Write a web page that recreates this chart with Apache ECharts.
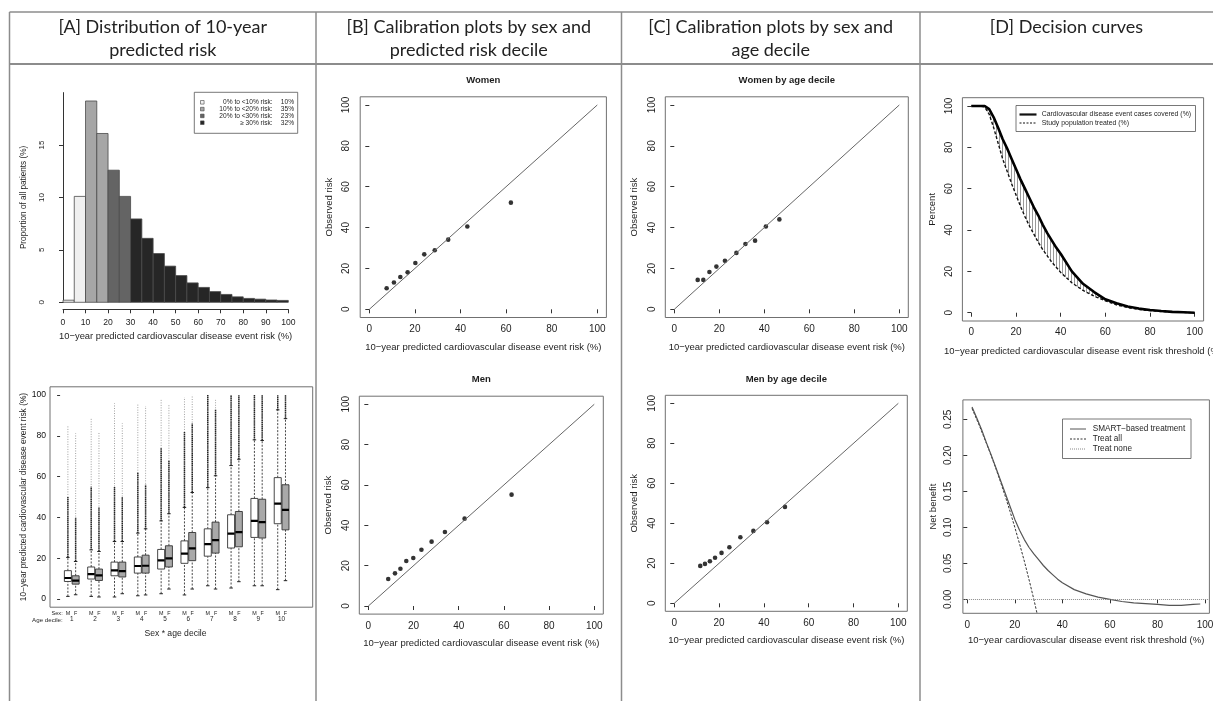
<!DOCTYPE html>
<html><head><meta charset="utf-8">
<script src="https://cdn.jsdelivr.net/npm/echarts@6/dist/echarts.min.js"></script>
<style>html,body{margin:0;padding:0;background:#fff}#c{width:1213px;height:701px}</style>
</head><body><div id="c"></div>
<script>
// ================= DATA =================
const headerLines = [
  ["[A] Distribution of 10-year", "predicted risk"],
  ["[B] Calibration plots by sex and", "predicted risk decile"],
  ["[C] Calibration plots by sex and", "age decile"],
  ["[D] Decision curves"]
];

// [A] histogram of predicted risk (bins of 5%)
const histBinStart = [0,5,10,15,20,25,30,35,40,45,50,55,60,65,70,75,80,85,90,95];
const histBinWidth = 5;
const histValues = [0.2,10.1,19.2,16.1,12.6,10.1,7.95,6.1,4.65,3.45,2.55,1.85,1.42,1.02,0.75,0.52,0.37,0.3,0.22,0.18];
const histXTicks = [0,10,20,30,40,50,60,70,80,90,100];
const histYTicks = [0,5,10,15];
const riskGroupLabels = ["0% to <10% risk:", "10% to <20% risk:", "20% to <30% risk:", "\u2265 30% risk:"];
const riskGroupShares = ["10%", "35%", "23%", "32%"];
const riskGroupUpper = [10, 20, 30, 100];

// [A] boxplots by sex * age decile: [lowWhisker, Q1, median, Q3, highWhisker, denseOutlierTop, maxOutlier]
const ageDeciles = ["1","2","3","4","5","6","7","8","9","10"];
const sexLabels = ["M","F"];
const boxMen = [
  [1.3, 8.6, 10.3, 13.9, 20.4, 50, 85.3],
  [1.3, 9.8, 12.2, 15.7, 24.1, 55, 88.6],
  [1.0, 11.4, 14.0, 18.1, 28.2, 55, 95.9],
  [1.6, 12.7, 16.2, 20.6, 32.3, 62, 95.9],
  [2.6, 14.7, 18.9, 24.3, 38.3, 74, 97.9],
  [2.0, 17.5, 22.3, 28.5, 44.9, 82, 98.9],
  [6.5, 21.0, 26.9, 34.4, 54.6, 100, 100],
  [5.4, 25.0, 32.1, 41.3, 65.4, 100, 100],
  [6.5, 30.2, 38.3, 49.3, 78.0, 100, 100],
  [4.6, 36.9, 46.8, 59.5, 92.7, 100, 100]
];
const boxWomen = [
  [2.1, 7.3, 9.0, 11.4, 18.4, 40, 81.2],
  [1.0, 9.1, 11.6, 14.7, 23.3, 45, 81.6],
  [2.6, 10.8, 13.7, 18.1, 28.2, 50, 86.1],
  [2.0, 12.7, 16.3, 21.5, 34.4, 56, 94.6],
  [4.9, 15.7, 19.9, 26.1, 41.8, 68, 95.1],
  [4.9, 18.8, 24.8, 32.6, 52.2, 86, 100],
  [4.9, 22.5, 28.9, 37.7, 60.4, 93, 97.6],
  [8.5, 25.6, 32.8, 42.9, 68.5, 100, 100],
  [6.5, 29.9, 37.7, 48.9, 77.7, 100, 100],
  [9.0, 33.9, 43.7, 56.0, 88.4, 100, 100]
];
const boxYTicks = [0,20,40,60,80,100];

// [B] calibration by predicted-risk decile
const womenRiskPred = [7.6,10.8,13.6,16.8,20.2,24.1,28.7,34.6,43.0,62.1];
const womenRiskObs  = [10.3,13.1,15.8,18.1,22.7,26.9,28.9,34.1,40.5,52.2];
const menRiskPred   = [8.8,11.8,14.2,16.8,19.9,23.5,28.0,33.9,42.6,63.4];
const menRiskObs    = [13.4,16.2,18.5,22.3,23.8,27.9,31.9,36.7,43.3,55.2];
// [C] calibration by age decile
const womenAgePred  = [10.4,12.9,15.6,18.7,22.5,27.6,31.6,35.9,40.7,46.7];
const womenAgeObs   = [14.4,14.4,18.3,20.9,23.8,27.6,32.0,33.6,40.5,44.0];
const menAgePred    = [11.6,13.7,15.9,18.2,21.1,24.6,29.5,35.3,41.4,49.4];
const menAgeObs     = [18.7,19.7,21.0,22.8,25.2,28.0,33.0,36.2,40.5,48.2];
const identityEnds  = [0, 100];
const calTicks = [0,20,40,60,80,100];

// [D] top: cases covered vs population treated
const thresholdPct = [0,2,4,6,8,10,12,14,16,18,20,22,24,26,28,30,32,34,36,38,40,45,50,55,60,65,70,75,80,85,90,95,100];
const casesCovered = [100,100,100,100,98.5,94.5,89.5,84,79.5,74.5,69.5,64.5,60,55.5,51,47,42.5,38.5,35,31.5,28.5,20,14,10,6.5,4.6,3.0,2.0,1.3,0.8,0.4,0.2,0];
const populationTreated = [100,100,100,99.5,96,89.5,82,74.5,68.5,62.5,57,51.5,46.5,42,38,34,30.5,27.5,24.5,22,19.5,14.5,10.8,8,5.8,3.8,2.5,1.6,1.0,0.6,0.3,0.15,0];
const coverageLegend = ["Cardiovascular disease event cases covered (%)", "Study population treated (%)"];

// [D] bottom: net benefit
const nbThreshold = [2,4,6,8,10,12,14,16,18,20,22,24,26,28,30,32,34,36,38,40,45,50,55,60,65,70,75,80,85,90,95,98];
const nbSmart = [0.267,0.252,0.236,0.218,0.201,0.183,0.165,0.147,0.129,0.111,0.096,0.083,0.072,0.063,0.055,0.047,0.040,0.034,0.028,0.023,0.0135,0.0075,0.003,0.0,-0.003,-0.005,-0.006,-0.007,-0.0085,-0.0085,-0.007,-0.0065];
const nbAllThreshold = [2,5,8,10,12,14,16,18,20,22,24,26,28,30];
const nbTreatAll = [0.265,0.242,0.217,0.2,0.182,0.163,0.143,0.122,0.1,0.077,0.053,0.027,0.0,-0.029];
const nbTreatNone = 0;
const nbLegend = ["SMART\u2212based treatment", "Treat all", "Treat none"];
const nbYTicks = [0,0.05,0.10,0.15,0.20,0.25];

// ================= STYLE =================
const FONT = 'Liberation Sans';
const FONTCSS = '"Liberation Sans", Arial, sans-serif';
const HFONT = 'Lato, "Open Sans", sans-serif';
const FRAME = '#707070';
const TXT = '#1e1e1e';
const TABLE = '#8c8c8c';
const groupColors = ['#f0f0f0', '#a6a6a6', '#646464', '#262626'];

function frameGrid(l, t, w, h) {
  return {left: l, top: t, width: w, height: h, show: true, borderColor: FRAME, borderWidth: 1,
          backgroundColor: 'rgba(0,0,0,0)', containLabel: false, outerBoundsMode: 'none'};
}
function xAx(gi, min, max, ticks, name, gap, margin, fs) {
  return {type: 'value', gridIndex: gi, min: min, max: max, position: 'bottom',
    axisLine: {show: false}, splitLine: {show: false},
    axisTick: {show: true, customValues: ticks, length: 4, lineStyle: {color: '#333'}},
    axisLabel: {customValues: ticks, margin: margin, fontSize: fs || 10, color: TXT, fontFamily: FONT},
    name: name, nameLocation: 'middle', nameGap: gap,
    nameTextStyle: {fontSize: 9.5, color: TXT, fontFamily: FONT}};
}
function yAx(gi, min, max, ticks, name, gap, margin, fmt) {
  return {type: 'value', gridIndex: gi, min: min, max: max,
    axisLine: {show: false}, splitLine: {show: false},
    axisTick: {show: true, customValues: ticks, length: 4, lineStyle: {color: '#333'}},
    axisLabel: {customValues: ticks, margin: margin, rotate: 90, fontSize: 10, color: TXT, fontFamily: FONT,
                formatter: fmt || (v => String(v))},
    name: name, nameLocation: 'middle', nameGap: gap,
    nameTextStyle: {fontSize: 9.5, color: TXT, fontFamily: FONT}};
}

// hatch pattern for the covered/treated gap
const hatch = document.createElement('canvas');
hatch.width = 3; hatch.height = 4;
(function(){ const g = hatch.getContext('2d'); g.fillStyle = '#9a9a9a'; g.fillRect(0, 0, 1, 4); })();

// ================= BOXPLOT helpers =================
const menPos = ageDeciles.map((d, i) => 3 * i + 1);
const womenPos = ageDeciles.map((d, i) => 3 * i + 2);
const decilePos = ageDeciles.map((d, i) => 3 * i + 1.5);
function boxRender(fill) {
  return function (params, api) {
    const x = api.value(0);
    const P = v => api.coord([x, v]);
    const w = api.size([0.9, 0])[0];
    const cx = P(0)[0];
    const yLo = P(api.value(1))[1], yQ1 = P(api.value(2))[1], yMed = P(api.value(3))[1],
          yQ3 = P(api.value(4))[1], yHi = P(api.value(5))[1], yDen = P(api.value(6))[1], yMax = P(api.value(7))[1];
    const L = (x1, y1, x2, y2, s) => ({type: 'line', shape: {x1, y1, x2, y2}, style: s});
    return {type: 'group', children: [
      L(cx, yHi, cx, yMax, {stroke: '#a0a0a0', lineWidth: 1, lineDash: [1, 1.5]}),
      L(cx, yHi, cx, yDen, {stroke: '#262626', lineWidth: 1.5, lineDash: [1.4, 0.5]}),
      L(cx, yLo, cx, yQ1, {stroke: '#333', lineWidth: 0.9, lineDash: [2, 1.5]}),
      L(cx, yQ3, cx, yHi, {stroke: '#333', lineWidth: 0.9, lineDash: [2, 1.5]}),
      L(cx - w / 4, yLo, cx + w / 4, yLo, {stroke: '#222', lineWidth: 1}),
      L(cx - w / 4, yHi, cx + w / 4, yHi, {stroke: '#222', lineWidth: 1}),
      {type: 'rect', shape: {x: cx - w / 2, y: yQ3, width: w, height: yQ1 - yQ3},
       style: {fill: fill, stroke: '#333', lineWidth: 0.9}},
      L(cx - w / 2, yMed, cx + w / 2, yMed, {stroke: '#000', lineWidth: 2.2})
    ]};
  };
}

// ================= GRAPHIC (table, headers, legends) =================
const colX = [9.5, 316, 621.5, 920, 1213];
const graphics = [];
function gl(x1, y1, x2, y2, w, c) {
  graphics.push({type: 'line', shape: {x1, y1, x2, y2}, style: {stroke: c || TABLE, lineWidth: w || 1.5}, silent: true});
}
function gt(text, x, y, font, align, color, weight) {
  graphics.push({type: 'text', x: x, y: y, silent: true,
    style: {text: text, font: (weight ? weight + ' ' : '') + font, fill: color || TXT,
            textAlign: align || 'center', textVerticalAlign: 'middle', verticalAlign: 'middle'}});
}
gl(colX[0], 12, 1213, 12);
gl(colX[0], 64, 1213, 64, 2);
colX.slice(0, 4).forEach(x => gl(x, 12, x, 701));
headerLines.forEach((lines, i) => {
  const cx = (colX[i] + colX[i + 1]) / 2;
  lines.forEach((t, j) => gt(t, cx, 27 + j * 23, '18px ' + HFONT, 'center', '#222'));
});
// panel subtitles
gt('Women', 483.3, 80.7, '9.5px ' + FONTCSS, 'center', TXT, 'bold');
gt('Men', 481.3, 379.3, '9.5px ' + FONTCSS, 'center', TXT, 'bold');
gt('Women by age decile', 786.8, 80.7, '9.5px ' + FONTCSS, 'center', TXT, 'bold');
gt('Men by age decile', 786.3, 379.3, '9.5px ' + FONTCSS, 'center', TXT, 'bold');
// histogram legend
graphics.push({type: 'rect', shape: {x: 194.3, y: 92.3, width: 103.4, height: 41}, style: {fill: '#fff', stroke: '#555', lineWidth: 0.8}, silent: true});
riskGroupLabels.forEach((t, i) => {
  const y = 102.3 + i * 6.8;
  graphics.push({type: 'rect', shape: {x: 200.5, y: y - 1.8, width: 3.6, height: 3.6}, style: {fill: groupColors[i], stroke: '#444', lineWidth: 0.6}, silent: true});
  gt(t, 272.7, y, '6.6px ' + FONTCSS, 'right');
  gt(riskGroupShares[i], 294, y, '6.6px ' + FONTCSS, 'right');
});
// boxplot row labels
gt('Sex:', 62.7, 613.8, '5.6px ' + FONTCSS, 'right');
gt('Age decile:', 62.7, 620, '6.2px ' + FONTCSS, 'right');
gt('Sex * age decile', 175.5, 634, '8.6px ' + FONTCSS, 'center');
// D top legend
graphics.push({type: 'rect', shape: {x: 1016, y: 105.5, width: 179.5, height: 26}, style: {fill: '#fff', stroke: '#555', lineWidth: 0.8}, silent: true});
gl(1019.5, 114.5, 1036.5, 114.5, 2.2, '#111');
gl(1019.5, 123, 1036.5, 123, 1, '#111');
graphics[graphics.length - 1].style.lineDash = [2, 1.5];
gt(coverageLegend[0], 1041.7, 114.5, '6.9px ' + FONTCSS, 'left');
gt(coverageLegend[1], 1041.7, 123, '6.9px ' + FONTCSS, 'left');
// D bottom legend
graphics.push({type: 'rect', shape: {x: 1062.5, y: 419, width: 128.5, height: 39.5}, style: {fill: '#fff', stroke: '#555', lineWidth: 0.8}, silent: true});
const nbLegendStyles = [{stroke: '#555', lineWidth: 1}, {stroke: '#333', lineWidth: 1, lineDash: [2, 1.5]}, {stroke: '#888', lineWidth: 1, lineDash: [1, 1]}];
nbLegend.forEach((t, i) => {
  const y = 429 + i * 10;
  graphics.push({type: 'line', shape: {x1: 1070, y1: y, x2: 1086, y2: y}, style: nbLegendStyles[i], silent: true});
  gt(t, 1092.7, y, '8.2px ' + FONTCSS, 'left');
});

// ================= OPTION =================
const pairs = (xs, ys) => xs.map((x, i) => [x, ys[i]]);
const identity = identityEnds.map(v => [v, v]);
function calSeries(gi, xs, ys) {
  return [
    {type: 'line', xAxisIndex: gi, yAxisIndex: gi - 1, data: identity, symbol: 'none', silent: true,
     lineStyle: {color: '#666', width: 1}},
    {type: 'scatter', xAxisIndex: gi, yAxisIndex: gi - 1, data: pairs(xs, ys), symbol: 'circle', symbolSize: 4.6,
     itemStyle: {color: '#000'}, silent: true}
  ];
}

const option = {
  backgroundColor: '#fff',
  animation: false,
  textStyle: {fontFamily: FONT},
  graphic: graphics,
  grid: [
    {left: 63, top: 92.6, width: 225.3, height: 209.7, containLabel: false, outerBoundsMode: 'none'},
    frameGrid(50, 386.8, 262.7, 220.4),
    frameGrid(360.2, 96.8, 246.2, 220.7),
    frameGrid(359.3, 396.2, 244, 217.9),
    frameGrid(665.3, 96.8, 243, 220.7),
    frameGrid(665.3, 395.3, 242, 216),
    frameGrid(962.4, 97.7, 241.2, 223.3),
    frameGrid(962.9, 399.9, 246.5, 213.4)
  ],
  xAxis: [
    // 0 histogram
    {type: 'value', gridIndex: 0, min: 0, max: 100, offset: 7, position: 'bottom',
     axisLine: {show: true, onZero: false, lineStyle: {color: '#333', width: 1}}, splitLine: {show: false},
     axisTick: {show: true, customValues: histXTicks, length: 4, lineStyle: {color: '#333'}},
     axisLabel: {customValues: histXTicks, margin: 8.5, fontSize: 8.6, color: TXT, fontFamily: FONT},
     name: '10\u2212year predicted cardiovascular disease event risk (%)', nameLocation: 'middle', nameGap: 23,
     nameTextStyle: {fontSize: 9.4, color: TXT, fontFamily: FONT}},
    // 1 boxplot sex labels
    {type: 'value', gridIndex: 1, min: -1.3, max: 32.5, position: 'bottom',
     axisLine: {show: false}, axisTick: {show: false}, splitLine: {show: false},
     axisLabel: {customValues: menPos.concat(womenPos), margin: 4, fontSize: 5.4, color: TXT, fontFamily: FONT,
                 formatter: v => sexLabels[(Math.round(v) % 3) - 1]}},
    // 2 boxplot decile labels
    {type: 'value', gridIndex: 1, min: -1.3, max: 32.5, position: 'bottom', offset: 6,
     axisLine: {show: false}, axisTick: {show: false}, splitLine: {show: false},
     axisLabel: {customValues: decilePos, margin: 3.5, fontSize: 6.4, color: TXT, fontFamily: FONT,
                 formatter: v => ageDeciles[Math.round((v - 1.5) / 3)]}},
    xAx(2, -4, 104, calTicks, '10\u2212year predicted cardiovascular disease event risk (%)', 24.5, 7),
    xAx(3, -4, 104, calTicks, '10\u2212year predicted cardiovascular disease event risk (%)', 24, 7),
    xAx(4, -4, 104, calTicks, '10\u2212year predicted cardiovascular disease event risk (%)', 24.5, 7),
    xAx(5, -4, 104, calTicks, '10\u2212year predicted cardiovascular disease event risk (%)', 24, 7),
    xAx(6, -4, 104, calTicks, '10\u2212year predicted cardiovascular disease event risk threshold (%)', 25, 6),
    xAx(7, -1.84, 101.84, calTicks, '10\u2212year cardiovascular disease event risk threshold (%)', 22, 7)
  ],
  yAxis: [
    // 0 histogram
    {type: 'value', gridIndex: 0, min: 0, max: 20,
     axisLine: {show: true, onZero: false, lineStyle: {color: '#333', width: 1}}, splitLine: {show: false},
     axisTick: {show: true, customValues: histYTicks, length: 4, lineStyle: {color: '#333'}},
     axisLabel: {customValues: histYTicks, margin: 17, rotate: 90, fontSize: 8, color: TXT, fontFamily: FONT},
     name: 'Proportion of all patients (%)', nameLocation: 'middle', nameGap: 35,
     nameTextStyle: {fontSize: 8.2, color: TXT, fontFamily: FONT}},
    // 1 boxplot
    {type: 'value', gridIndex: 1, min: -4, max: 104,
     axisLine: {show: false}, splitLine: {show: false},
     axisTick: {show: true, customValues: boxYTicks, length: 3, lineStyle: {color: '#333'}},
     axisLabel: {customValues: boxYTicks, margin: 4, fontSize: 8.6, color: '#111', fontFamily: FONT},
     name: '10\u2212year predicted cardiovascular disease event risk (%)', nameLocation: 'middle', nameGap: 21,
     nameTextStyle: {fontSize: 8.4, color: TXT, fontFamily: FONT}},
    yAx(2, -4, 104, calTicks, 'Observed risk', 25.5, 8.5),
    yAx(3, -4, 104, calTicks, 'Observed risk', 25.5, 8.5),
    yAx(4, -4, 104, calTicks, 'Observed risk', 25.5, 8.5),
    yAx(5, -4, 104, calTicks, 'Observed risk', 25.5, 8.5),
    yAx(6, -4, 104, calTicks, 'Percent', 24.7, 7.7),
    yAx(7, -0.0194, 0.277, nbYTicks, 'Net benefit', 25, 10, v => v.toFixed(2))
  ],
  series: [
    // histogram bars
    {type: 'custom', xAxisIndex: 0, yAxisIndex: 0, silent: true,
     data: histBinStart.map((s, i) => [s, s + histBinWidth, histValues[i]]),
     renderItem: function (params, api) {
       const s = api.value(0);
       const p0 = api.coord([s, 0]);
       const p1 = api.coord([api.value(1), api.value(2)]);
       let g = 0; while (s >= riskGroupUpper[g]) g++;
       return {type: 'rect', shape: {x: p0[0], y: p1[1], width: p1[0] - p0[0], height: p0[1] - p1[1]},
               style: {fill: groupColors[g], stroke: '#4a4a4a', lineWidth: 0.8}};
     }},
    // boxplots
    {type: 'custom', xAxisIndex: 1, yAxisIndex: 1, silent: true, clip: true,
     data: boxMen.map((b, i) => [menPos[i]].concat(b)), renderItem: boxRender('#ffffff')},
    {type: 'custom', xAxisIndex: 1, yAxisIndex: 1, silent: true, clip: true,
     data: boxWomen.map((b, i) => [womenPos[i]].concat(b)), renderItem: boxRender('#a9a9a9')},
    // calibration
    ...calSeries(3, womenRiskPred, womenRiskObs),
    ...calSeries(4, menRiskPred, menRiskObs),
    ...calSeries(5, womenAgePred, womenAgeObs),
    ...calSeries(6, menAgePred, menAgeObs),
    // D top hatched gap
    {type: 'custom', xAxisIndex: 7, yAxisIndex: 6, silent: true, data: [[0, 0]],
     renderItem: function (params, api) {
       const pts = [];
       thresholdPct.forEach((t, i) => pts.push(api.coord([t, casesCovered[i]])));
       for (let i = thresholdPct.length - 1; i >= 0; i--) pts.push(api.coord([thresholdPct[i], populationTreated[i]]));
       return {type: 'polygon', shape: {points: pts}, style: {fill: {image: hatch, repeat: 'repeat'}, stroke: null}};
     }},
    {type: 'line', xAxisIndex: 7, yAxisIndex: 6, data: pairs(thresholdPct, populationTreated), symbol: 'none', silent: true,
     lineStyle: {color: '#111', width: 1.4, type: [3, 2]}},
    {type: 'line', xAxisIndex: 7, yAxisIndex: 6, data: pairs(thresholdPct, casesCovered), symbol: 'none', silent: true,
     lineStyle: {color: '#000', width: 2.6}},
    // D bottom net benefit
    {type: 'line', xAxisIndex: 8, yAxisIndex: 7, data: pairs(nbAllThreshold, nbTreatAll), symbol: 'none', silent: true,
     clip: true, lineStyle: {color: '#333', width: 1, type: [2.5, 1.5]}},
    {type: 'line', xAxisIndex: 8, yAxisIndex: 7, data: pairs(nbThreshold, nbSmart), symbol: 'none', silent: true,
     lineStyle: {color: '#555', width: 1.2},
     markLine: {silent: true, symbol: 'none', label: {show: false},
                lineStyle: {color: '#8a8a8a', width: 1, type: [1, 1]}, data: [{yAxis: nbTreatNone}]}}
  ]
};
const chart = echarts.init(document.getElementById('c'), null, {renderer: 'canvas', width: 1213, height: 701});
chart.setOption(option);
</script>
</body></html>
